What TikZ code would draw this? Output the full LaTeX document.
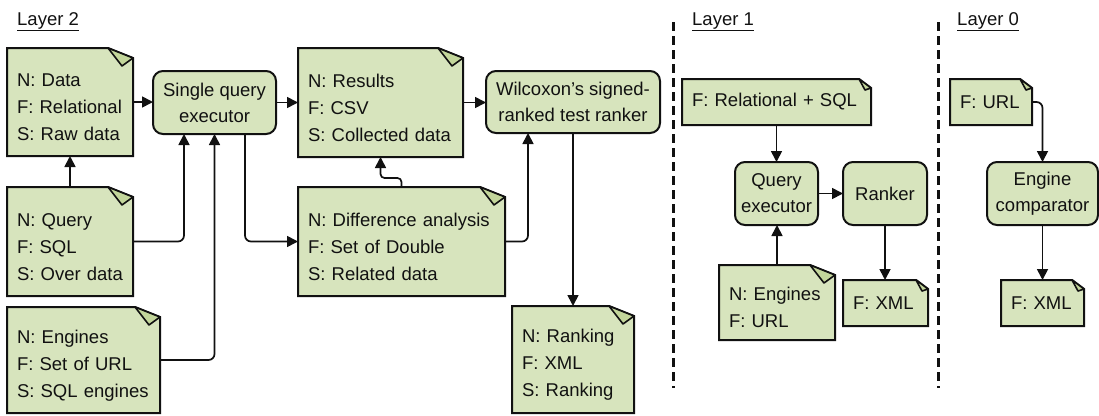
\documentclass[tikz,border=0pt]{standalone}
\usepackage{fontspec}
\setmainfont{Liberation Sans}
\usetikzlibrary{arrows.meta,calc}
\pgfdeclarelayer{background}
\pgfsetlayers{background,main}
\definecolor{boxfill}{HTML}{D7E4BD}
\definecolor{foldfill}{HTML}{C3D69B}
\definecolor{ink}{HTML}{111111}
\newcommand\pushdown{\rule{0pt}{24pt}}
\tikzset{
  base/.style={font=\fontsize{18.5}{27}\selectfont, text=ink},
  docnode/.style={base, draw=none, align=left, inner xsep=10pt, inner ysep=0pt, outer sep=0pt},
  proc/.style={base, font=\fontsize{18.5}{26}\selectfont, draw=ink, fill=boxfill, line width=2pt,
    rounded corners=10pt, align=center, inner sep=0pt, outer sep=0pt},
  docbody/.style={draw=ink, fill=boxfill, line width=2pt, line join=miter},
  docfold/.style={draw=ink, fill=foldfill, line width=1.6pt, line join=round},
  arr/.style={draw=ink, line width=1.7pt, -{Triangle[length=11pt,width=11pt]}, rounded corners=6pt},
  layerlabel/.style={base, anchor=base west, inner sep=0pt},
  divider/.style={draw=ink, line width=3pt, dash pattern=on 9pt off 5pt}
}
% #1 node, #2 fold width, #3 fold height, #4/#5 inner fold vertex offsets
\newcommand\docoutline[5]{%
  \begin{pgfonlayer}{background}
    \path[docbody] (#1.north west) -- ([xshift=-#2]#1.north east) -- ([yshift=-#3]#1.north east)
      -- (#1.south east) -- (#1.south west) -- cycle;
    \path[docfold] ([xshift=-#2]#1.north east) -- ([yshift=-#3]#1.north east)
      -- ([xshift=-#4,yshift=-#5]#1.north east) -- cycle;
  \end{pgfonlayer}}
\newcommand\bigdoc[1]{\docoutline{#1}{25pt}{10pt}{11pt}{18pt}}
\newcommand\smalldoc[1]{\docoutline{#1}{12pt}{9pt}{6pt}{11pt}}
\begin{document}
\begin{tikzpicture}[x=1pt,y=-1pt]
\useasboundingbox (0,0) rectangle (1099,415);

% layer labels
\node[layerlabel] (l2) at (17,25) {\underline{Layer 2}};
\node[layerlabel] (l1) at (692,25) {\underline{Layer 1}};
\node[layerlabel] (l0) at (957,25) {\underline{Layer 0}};

% dividers
\coordinate (d1t) at (673,22); \coordinate (d1b) at (673,388);
\coordinate (d2t) at (938,22); \coordinate (d2b) at (938,388);
\path[divider] (d1t) -- (d1b);
\path[divider] (d2t) -- (d2b);

% ---------- Layer 2 ----------
\node[docnode, text width=106pt, minimum height=108pt] (data) at (70,102) {\pushdown N: Data\\F: Relational\\S: Raw data};
\node[docnode, text width=106pt, minimum height=109pt] (query) at (70,241.5) {\pushdown N: Query\\F: SQL\\S: Over data};
\node[docnode, text width=133pt, minimum height=106pt] (eng) at (83.5,360) {\pushdown N: Engines\\F: Set of URL\\S: SQL engines};
\node[docnode, text width=145pt, minimum height=109pt] (results) at (380.5,102.5) {\pushdown N: Results\\F: CSV\\S: Collected data};
\node[docnode, text width=187pt, minimum height=109pt] (diff) at (401.5,241.5) {\pushdown N: Difference analysis\\F: Set of Double\\S: Related data};
\node[docnode, text width=102pt, minimum height=107pt] (rank) at (573,359.5) {\pushdown N: Ranking\\F: XML\\S: Ranking};
\bigdoc{data}\bigdoc{query}\bigdoc{eng}\bigdoc{results}\bigdoc{diff}\bigdoc{rank}

\node[proc, minimum width=123pt, minimum height=63pt] (sqe) at (214.5,102.5) {Single query\\executor};
\node[proc, minimum width=174pt, minimum height=62pt] (wil) at (573,102) {Wilcoxon’s signed-\\ranked test ranker};

\draw[arr] (data.east) -- (data.east -| sqe.west);
\draw[arr] (query.north) -- (data.south);
\draw[arr] (query.east) -| ([xshift=-30.5pt]sqe.south);
\draw[arr] (eng.east) -| (sqe.south);
\draw[arr] ([xshift=30.5pt]sqe.south) |- (diff.west);
\draw[arr] (sqe.east) -- (sqe.east -| results.west);
\draw[arr] (results.east) -- (results.east -| wil.west);
\draw[arr, rounded corners=4pt] (diff.north) -- ++(0,-9) -| (results.south);
\draw[arr] (diff.east) -| ([xshift=-45pt]wil.south);
\draw[arr] (wil.south) -- (rank.north);

% ---------- Layer 1 ----------
\node[docnode, text width=169pt, minimum height=46pt] (relsql) at (776.5,102) {F: Relational + SQL};
\node[docnode, text width=96pt, minimum height=75pt] (eng1) at (777,302.5) {\pushdown N: Engines\\F: URL};
\node[docnode, text width=65pt, minimum height=46pt] (xml1) at (885.5,303) {F: XML};
\smalldoc{relsql}\bigdoc{eng1}\smalldoc{xml1}

\node[proc, minimum width=83pt, minimum height=63pt] (qe) at (776.5,193.5) {Query\\executor};
\node[proc, minimum width=84pt, minimum height=63pt] (ranker) at (885,193.5) {Ranker};

\draw[arr] (relsql.south) -- (qe.north);
\draw[arr] (eng1.north) -- (eng1.north |- qe.south);
\draw[arr] (qe.east) -- (ranker.west);
\draw[arr] (ranker.south) -- (ranker.south |- xml1.north);

% ---------- Layer 0 ----------
\node[docnode, text width=62pt, minimum height=46pt] (url) at (991,102) {F: URL};
\node[docnode, text width=63pt, minimum height=46pt] (xml0) at (1042.5,303) {F: XML};
\smalldoc{url}\smalldoc{xml0}

\node[proc, minimum width=111pt, minimum height=63pt] (comp) at (1042.5,193.5) {Engine\\comparator};

\draw[arr] (url.east) -| (comp.north);
\draw[arr] (comp.south) -- (xml0.north);
\end{tikzpicture}
\end{document}
